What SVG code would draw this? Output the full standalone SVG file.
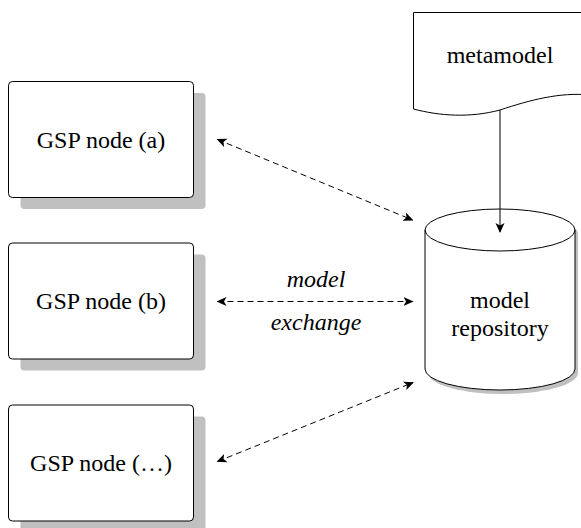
<svg xmlns="http://www.w3.org/2000/svg" width="581" height="528" viewBox="0 0 581 528">
<style>
.box{fill:#fff;stroke:#000;stroke-width:1}
.shadow{fill:#c0c0c0}
.lbl{font-family:'Liberation Serif','Times New Roman',serif;font-size:24px;fill:#000;text-anchor:middle}
.it{font-style:italic}
.dash{fill:none;stroke:#000;stroke-width:1;stroke-dasharray:6 4}
.solid{fill:none;stroke:#000;stroke-width:1}
</style>
<defs>
<marker id="ah" viewBox="0 0 10 10" refX="9" refY="5" markerWidth="10" markerHeight="10" markerUnits="userSpaceOnUse" orient="auto-start-reverse">
<path d="M0,0.5 L10,5 L0,9.5 L2.5,5 Z" fill="#000"/>
</marker>
</defs>
<rect width="581" height="528" fill="#fff"/>
<g id="node-a">
<rect class="shadow" x="20.5" y="93" width="185" height="116" rx="4"/>
<rect class="box" x="8.5" y="81.5" width="185" height="116" rx="4"/>
<text class="lbl" x="101" y="147.5">GSP node (a)</text>
</g>
<g id="node-b">
<rect class="shadow" x="20.5" y="254.5" width="185" height="116" rx="4"/>
<rect class="box" x="8.5" y="243" width="185" height="116" rx="4"/>
<text class="lbl" x="101" y="309">GSP node (b)</text>
</g>
<g id="node-c">
<rect class="shadow" x="20.5" y="416.5" width="185" height="116" rx="4"/>
<rect class="box" x="8.5" y="405" width="185" height="116" rx="4"/>
<text class="lbl" x="101" y="471">GSP node (…)</text>
</g>
<g id="metamodel">
<path class="box" d="M413.5,12.5 H590 V95 C560,92 530,100 500,110 C470,118 440,116 413.5,109 Z"/>
<text class="lbl" x="500" y="63">metamodel</text>
</g>
<g id="repository">
<path class="shadow" d="M428,234 A75,21 0 0 1 578,234 V373 A75,21 0 0 1 428,373 Z"/>
<path class="box" d="M425,230 A75,21 0 0 1 575,230 V369 A75,21 0 0 1 425,369 Z"/>
<path class="solid" d="M425,230 A75,21 0 0 0 575,230"/>
<text class="lbl" x="500" y="308">model</text>
<text class="lbl" x="500" y="336">repository</text>
</g>
<g id="connectors">
<line class="solid" x1="500" y1="110" x2="500" y2="232" marker-end="url(#ah)"/>
<line class="dash" x1="217.5" y1="139.5" x2="412.5" y2="220" marker-start="url(#ah)" marker-end="url(#ah)"/>
<line class="dash" x1="217.5" y1="301.5" x2="412.5" y2="301.5" marker-start="url(#ah)" marker-end="url(#ah)"/>
<line class="dash" x1="217.5" y1="461.5" x2="413" y2="382.5" marker-start="url(#ah)" marker-end="url(#ah)"/>
<text class="lbl it" x="316" y="287">model</text>
<text class="lbl it" x="316" y="330">exchange</text>
</g>
</svg>
